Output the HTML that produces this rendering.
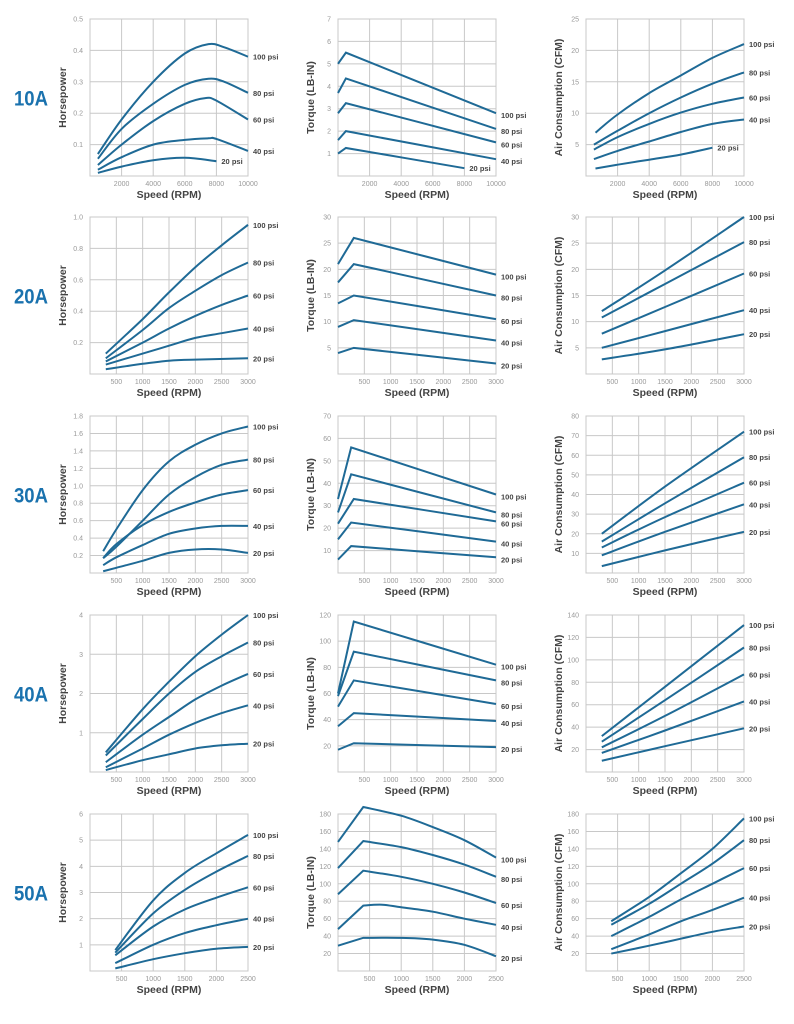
<!DOCTYPE html>
<html><head><meta charset="utf-8"><style>
html,body{margin:0;padding:0;background:#fff;}
svg{display:block;}
</style></head><body>
<svg id="s" width="794" height="1024" xmlns="http://www.w3.org/2000/svg" font-family="Liberation Sans, sans-serif"></svg>
<script>
const S=document.getElementById('s');
let out='';
const tops=[19,217,416,615,814], H=157, W=158, lefts=[90,338,586];
const rowNames=['10A','20A','30A','40A','50A'];
const xmax=[10000,3000,3000,3000,2500], xstep=[2000,500,500,500,500];
const ytitles=['Horsepower','Torque (LB-IN)','Air Consumption (CFM)'];
const yax=[
 [[0.5,0.1],[7,1],[25,5]],
 [[1.0,0.2],[30,5],[30,5]],
 [[1.8,0.2],[70,10],[80,10]],
 [[4,1],[120,20],[140,20]],
 [[6,1],[180,20],[180,20]]];
const L=['100 psi','80 psi','60 psi','40 psi','20 psi'];
const D=[
[
 [[[500,.07],[2000,.18],[4000,.30],[6000,.39],[7500,.42],[8500,.41],[10000,.38]],
  [[500,.055],[2000,.15],[4000,.23],[6000,.29],[7500,.31],[8500,.30],[10000,.265]],
  [[500,.035],[2000,.10],[4000,.175],[6000,.23],[7300,.248],[8000,.24],[10000,.18]],
  [[500,.02],[2000,.06],[4000,.10],[6000,.115],[7500,.12],[8000,.118],[10000,.08]],
  [[500,.01],[2000,.03],[4000,.05],[6000,.058],[8000,.047]]],
 [[[0,5],[500,5.5],[10000,2.8]],[[0,3.7],[500,4.35],[10000,2.1]],[[0,2.8],[500,3.25],[10000,1.5]],[[0,1.6],[500,2.0],[10000,.75]],[[0,1.0],[500,1.25],[8000,.35]]],
 [[[600,6.9],[2000,9.8],[4000,13.2],[6000,16],[8000,18.8],[10000,21]],
  [[500,5],[2000,7.2],[4000,10],[6000,12.5],[8000,14.7],[10000,16.5]],
  [[500,4.2],[2000,6.2],[4000,8.3],[6000,10.1],[8000,11.5],[10000,12.5]],
  [[500,2.7],[2000,4],[4000,5.5],[6000,7],[8000,8.3],[10000,9]],
  [[600,1.2],[2000,1.8],[4000,2.6],[6000,3.4],[8000,4.5]]]
],[
 [[[300,.13],[1000,.35],[1500,.52],[2000,.68],[2500,.82],[3000,.95]],
  [[300,.1],[1000,.28],[1500,.42],[2000,.53],[2500,.63],[3000,.71]],
  [[300,.08],[1000,.2],[1500,.29],[2000,.37],[2500,.44],[3000,.5]],
  [[300,.06],[1000,.13],[1500,.18],[2000,.23],[2500,.26],[3000,.29]],
  [[300,.03],[1000,.065],[1500,.085],[2000,.092],[3000,.1]]],
 [[[0,21],[300,26],[3000,19]],[[0,17.5],[300,21],[3000,15]],[[0,13.5],[300,15],[3000,10.5]],[[0,9],[300,10.3],[3000,6.4]],[[0,4],[300,5],[3000,2]]],
 [[[300,12],[1500,19.8],[3000,30]],[[300,10.8],[1500,17.2],[3000,25.2]],[[300,7.7],[1500,12.8],[3000,19.2]],[[300,5],[1500,8.2],[3000,12.2]],[[300,2.8],[1500,4.7],[3000,7.6]]]
],[
 [[[250,.25],[500,.5],[1000,.95],[1500,1.28],[2000,1.47],[2500,1.6],[3000,1.68]],
  [[250,.17],[500,.3],[1000,.6],[1500,.9],[2000,1.1],[2500,1.24],[3000,1.3]],
  [[250,.17],[500,.33],[1000,.55],[1500,.7],[2000,.81],[2500,.9],[3000,.95]],
  [[250,.09],[500,.18],[1000,.32],[1500,.45],[2000,.51],[2500,.54],[3000,.54]],
  [[250,.02],[500,.06],[1000,.14],[1500,.23],[2000,.27],[2500,.27],[3000,.23]]],
 [[[0,33],[250,56],[3000,35]],[[0,27],[250,44],[3000,27]],[[0,22],[300,33],[3000,23]],[[0,15],[250,22.5],[3000,14]],[[0,6],[250,12],[3000,7]]],
 [[[300,20],[1500,44],[3000,72]],[[300,16],[1500,35.5],[3000,59]],[[300,13],[1500,28.5],[3000,46]],[[300,9],[1500,21],[3000,35]],[[300,3.5],[1500,11.5],[3000,21]]]
],[
 [[[300,.5],[1000,1.6],[1500,2.3],[2000,2.95],[2500,3.5],[3000,4]],
  [[300,.42],[1000,1.35],[1500,2],[2000,2.55],[2500,2.95],[3000,3.3]],
  [[300,.25],[1000,.95],[1500,1.4],[2000,1.85],[2500,2.2],[3000,2.5]],
  [[300,.12],[1000,.6],[1500,.95],[2000,1.25],[2500,1.5],[3000,1.7]],
  [[300,.05],[1000,.3],[1500,.45],[2000,.6],[2500,.68],[3000,.72]]],
 [[[0,60],[300,115],[3000,82]],[[0,58],[300,92],[3000,70]],[[0,50],[300,70],[3000,52]],[[0,35],[300,45],[3000,39]],[[0,17],[300,22],[3000,19]]],
 [[[300,32],[1500,76],[3000,131]],[[300,27],[1500,64],[3000,111]],[[300,22],[1500,50],[3000,87]],[[300,17],[1500,37],[3000,63]],[[300,10],[1500,23],[3000,39]]]
],[
 [[[400,.8],[1000,2.7],[1500,3.75],[2000,4.5],[2500,5.2]],
  [[400,.7],[1000,2.2],[1500,3.1],[2000,3.8],[2500,4.4]],
  [[400,.6],[1000,1.7],[1500,2.35],[2000,2.8],[2500,3.2]],
  [[400,.3],[1000,1.0],[1500,1.45],[2000,1.75],[2500,2.0]],
  [[400,.1],[1000,.45],[1500,.68],[2000,.85],[2500,.92]]],
 [[[0,148],[400,188],[1000,178],[1500,165],[2000,150],[2500,130]],
  [[0,118],[400,149],[1000,142],[1500,133],[2000,122],[2500,108]],
  [[0,88],[400,115],[1000,108],[1500,100],[2000,90],[2500,78]],
  [[0,48],[400,75],[700,76],[1000,73],[1500,68],[2000,60],[2500,53]],
  [[0,29],[400,38],[1000,38],[1500,36],[2000,30],[2500,17]]],
 [[[400,57],[1000,85],[1500,112],[2000,140],[2500,175]],[[400,53],[1000,77],[1500,100],[2000,123],[2500,150]],[[400,40],[1000,62],[1500,82],[2000,100],[2500,118]],[[400,25],[1000,42],[1500,57],[2000,70],[2500,84]],[[400,20],[1000,29],[1500,37],[2000,45],[2500,51]]]
]];
function smooth(p){let d='';for(let i=0;i<p.length-1;i++){const p0=p[i-1]||p[i],p1=p[i],p2=p[i+1],p3=p[i+2]||p2;
 const c1=[p1[0]+(p2[0]-p0[0])/6,p1[1]+(p2[1]-p0[1])/6],c2=[p2[0]-(p3[0]-p1[0])/6,p2[1]-(p3[1]-p1[1])/6];
 d+=` C${c1[0].toFixed(1)},${c1[1].toFixed(1)} ${c2[0].toFixed(1)},${c2[1].toFixed(1)} ${p2[0].toFixed(1)},${p2[1].toFixed(1)}`;}return d;}
for(let r=0;r<5;r++){
 const t=tops[r],b=t+H;
 out+=`<text x="14" y="${t+H/2+8}" font-size="21" font-weight="bold" fill="#1a72ae" textLength="34" lengthAdjust="spacingAndGlyphs">${rowNames[r]}</text>`;
 for(let c=0;c<3;c++){
  const l=lefts[c],rt=l+W;const [ym,ys]=yax[r][c];const xm=xmax[r],xs=xstep[r];
  const X=v=>l+v/xm*W, Y=v=>b-v/ym*H;
  out+=`<rect x="${l}" y="${t}" width="${W}" height="${H}" fill="none" stroke="#c8c8c8" stroke-width="1"/>`;
  for(let v=xs;v<xm-1e-6;v+=xs)out+=`<line x1="${X(v)}" y1="${t}" x2="${X(v)}" y2="${b}" stroke="#c8c8c8"/>`;
  for(let v=xs;v<=xm+1e-6;v+=xs)out+=`<text x="${X(v)}" y="${b+10}" font-size="7" fill="#999" text-anchor="middle">${v}</text>`;
  const n=Math.round(ym/ys);
  for(let k=1;k<=n;k++){const v=k*ys,y=Y(v);if(k<n)out+=`<line x1="${l}" y1="${y}" x2="${rt}" y2="${y}" stroke="#c8c8c8"/>`;
   const lab=ys<1?v.toFixed(1):String(Math.round(v));
   out+=`<text x="${l-7}" y="${y+2.5}" font-size="7" fill="#999" text-anchor="end">${lab}</text>`;}
  out+=`<text x="${l+W/2}" y="${b+22}" font-size="10.5" font-weight="bold" fill="#444" text-anchor="middle">Speed (RPM)</text>`;
  out+=`<text transform="translate(${l-24},${t+H/2}) rotate(-90)" font-size="10.5" font-weight="bold" fill="#444" text-anchor="middle">${ytitles[c]}</text>`;
  D[r][c].forEach((ser,i)=>{
   const p=ser.map(q=>[X(q[0]),Y(q[1])]);let d;
   if(c==1){d=`M${p[0][0]},${p[0][1]} L${p[1][0]},${p[1][1]}`+smooth(p.slice(1));}
   else d=`M${p[0][0]},${p[0][1]}`+smooth(p);
   out+=`<path d="${d}" fill="none" stroke="#1f6a96" stroke-width="2"/>`;
   const e=p[p.length-1];let ly=e[1]+3;if(c==1&&e[0]>=rt-1)ly=e[1]+5;
   out+=`<text x="${e[0]+5}" y="${ly}" font-size="7.5" font-weight="bold" fill="#444">${L[i]}</text>`;
  });
 }
}
S.innerHTML=out;
</script>
</body></html>
